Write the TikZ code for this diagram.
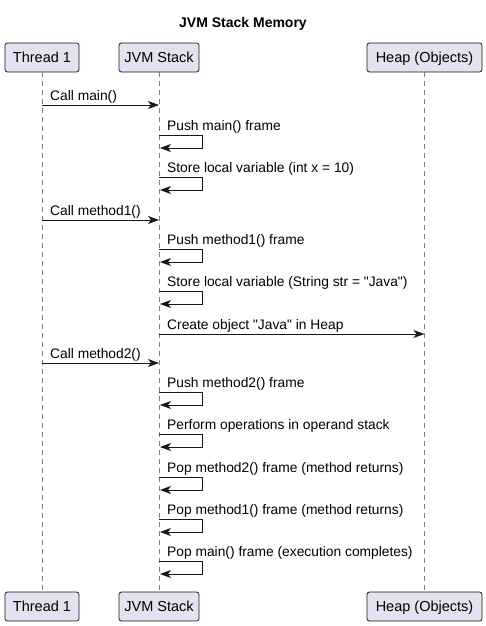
\documentclass[tikz,border=0pt]{standalone}
\usepackage{fontspec}
\setmainfont{Liberation Sans}[Ligatures=TeXOff]
\usetikzlibrary{arrows.meta}
\definecolor{partfill}{HTML}{E2E2F0}
\definecolor{umlline}{HTML}{181818}
\definecolor{lifegrey}{HTML}{808080}
\tikzset{
    partbox/.style={draw=umlline,fill=partfill,line width=0.8pt,rounded corners=2.5pt,
        minimum height=29pt,inner sep=0pt,text height=10.5pt,text depth=0pt,
        font=\fontsize{14.5}{17}\selectfont},
    msgline/.style={draw=umlline,line width=0.9pt,-{Stealth[length=11pt,width=8pt,inset=3pt]}},
    msgtext/.style={anchor=base west,inner sep=0pt,font=\fontsize{13.8}{16}\selectfont},
    lifeline/.style={draw=lifegrey,line width=0.6pt,dash pattern=on 5pt off 4pt}
}
\newcommand{\participant}[4]{
    \node[partbox,minimum width=#3pt] (#1top) at (#2,57.5) {#4};
    \node[partbox,minimum width=#3pt] (#1bot) at (#2,606.5) {#4};
    \draw[lifeline] (#1top) -- (#1bot);
}
\newcommand{\callmsg}[5]{
    \coordinate (#1a) at (#3,#2);
    \coordinate (#1b) at (#4,#2);
    \node[msgtext] (#1t) at (#3+8,#2-5) {#5};
    \draw[msgline] (#1a) -- (#1b);
}
\newcommand{\selfcall}[3]{
    \coordinate (#1a) at (159,#2);
    \coordinate (#1b) at (202,#2);
    \coordinate (#1c) at (202,#2+13);
    \coordinate (#1d) at (160,#2+13);
    \node[msgtext] (#1t) at (167,#2-5) {#3};
    \draw[msgline] (#1a) -- (#1b) -- (#1c) -- (#1d);
}
\begin{document}
\begin{tikzpicture}[x=1pt,y=-1pt]
        \useasboundingbox (0,0) rectangle (486,626);
        \node[anchor=base,font=\bfseries\fontsize{14}{17}\selectfont] (title) at (243,28) {JVM Stack Memory};

        \participant{thread}{42}{74}{Thread 1}
        \participant{stack}{159}{80}{JVM Stack}
        \participant{heap}{424.5}{115}{Heap (Objects)}

        \callmsg{callmain}{105}{42}{159}{Call main()}
        \selfcall{pushmain}{135}{Push main() frame}
        \selfcall{storex}{177}{Store local variable (int x = 10)}

        \callmsg{callone}{220}{42}{159}{Call method1()}
        \selfcall{pushone}{249}{Push method1() frame}
        \selfcall{storestr}{291}{Store local variable (String str = "Java")}
        \callmsg{create}{334}{159}{424.5}{Create object "Java" in Heap}

        \callmsg{calltwo}{363}{42}{159}{Call method2()}
        \selfcall{pushtwo}{392}{Push method2() frame}
        \selfcall{operate}{434}{Perform operations in operand stack}
        \selfcall{poptwo}{477}{Pop method2() frame (method returns)}
        \selfcall{popone}{519}{Pop method1() frame (method returns)}
        \selfcall{popmain}{561}{Pop main() frame (execution completes)}
    \end{tikzpicture}
\end{document}
